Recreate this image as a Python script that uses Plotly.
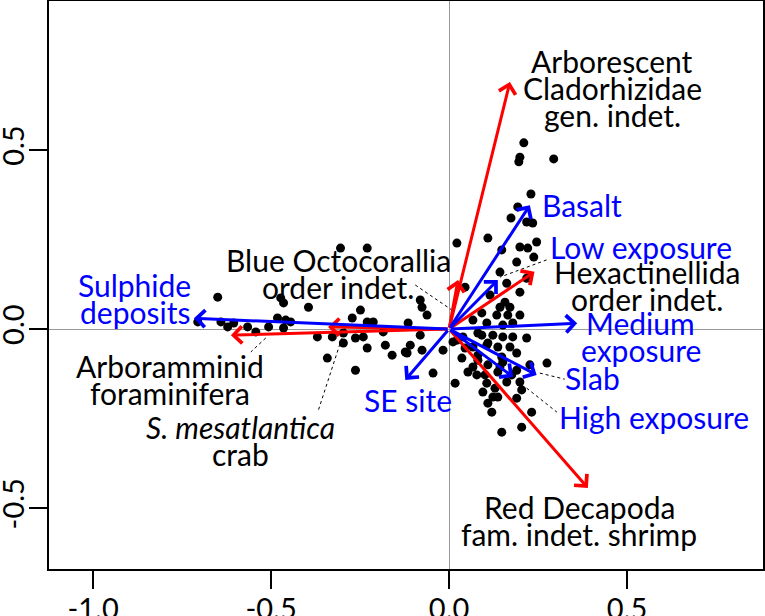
import plotly.graph_objects as go

# ---------------- data ----------------
site_x = [0.21, 0.199, 0.196, 0.294, 0.23, 0.193, 0.174, 0.218, 0.235, 0.022, 0.109, 0.148, 0.199, 0.246,
          0.221, 0.238, 0.19, 0.143, 0.162, 0.199, 0.218, 0.045, 0.115,
          0.157, 0.143, 0.171, 0.092, 0.134, 0.165, 0.199, 0.067, 0.106, 0.151, 0.179,
          0.039, 0.092, 0.123, 0.151, 0.179, 0.218, 0.022, 0.067, 0.106, 0.137, 0.171, 0.19, -0.017, 0.036,
          0.081, 0.151, 0.227, 0.275, 0.081, 0.011, 0.109, 0.045, 0.081, 0.148, 0.067, 0.109, 0.137, 0.101,
          0.176, 0.017, 0.053, 0.078, 0.106, 0.095, 0.129, 0.162, 0.199, 0.204, 0.137, 0.19, 0.109, 0.12,
          0.232, 0.204, 0.148, -0.045, 0.143, 0.19, 0.123,
          -0.081, -0.076, -0.062, -0.249, -0.23, -0.213, -0.115, -0.241, -0.185, -0.081, -0.23, -0.179,
          -0.16, -0.118, -0.109, -0.076, -0.123,
          -0.305, -0.23, -0.395, -0.272, -0.37, -0.328, -0.297, -0.263, -0.342,
          -0.65, -0.473, -0.465, -0.706, -0.641, -0.622, -0.605, -0.566, -0.543, -0.507, -0.482, -0.465,
          -0.445, -0.459, -0.297, -0.263]
site_y = [0.52, 0.48, 0.467, 0.475, 0.377, 0.341, 0.31, 0.299, 0.296, 0.24, 0.254, 0.221, 0.229, 0.243,
          0.226, 0.201, 0.187, 0.159, 0.128, 0.103, 0.142, 0.117, 0.095,
          0.075, 0.061, 0.061, 0.045, 0.039, 0.039, 0.039, 0.025, 0.017, 0.011, 0.017,
          -0.022, -0.017, -0.017, -0.022, -0.022, -0.025, -0.031, -0.05, -0.045, -0.05, -0.05, -0.067, -0.059, -0.081,
          -0.087, -0.092, -0.1, -0.095, -0.011, -0.036, -0.039, -0.053, -0.073, -0.078, -0.106, -0.1, -0.12, -0.128,
          -0.128, -0.151, -0.12, -0.128, -0.151, -0.176, -0.165, -0.148, -0.148, -0.17, -0.19, -0.193, -0.207, -0.232,
          -0.232, -0.274, -0.288, -0.123, -0.106, -0.115, -0.19,
          0.081, 0.061, 0.039, 0.053, 0.02, 0.02, 0.017, -0.022, -0.008, -0.017, -0.053, -0.045,
          -0.073, -0.067, -0.045, -0.059, -0.064,
          0.226, 0.226, 0.061, 0.031, -0.022, -0.022, -0.011, -0.025, -0.081,
          0.089, 0.087, 0.073, 0.02, 0.02, 0.006, 0.017, 0.006, -0.008, 0.006, 0.031, 0.003,
          0.02, 0.025, -0.039, -0.115]

species_names = ["Arborescent Cladorhizidae gen. indet.", "Hexactinellida order indet.",
                 "Blue Octocorallia order indet.", "Red Decapoda fam. indet. shrimp",
                 "Arboramminid foraminifera", "S. mesatlantica crab"]
species_x = [0.171, 0.24, 0.025, 0.39, -0.613, -0.340]
species_y = [0.69, 0.16, 0.137, -0.444, -0.017, 0.006]

env_names = ["Sulphide deposits", "Basalt", "Low exposure", "Medium exposure", "Slab",
             "High exposure", "SE site"]
env_x = [-0.717, 0.227, 0.137, 0.36, 0.246, 0.18, -0.123]
env_y = [0.03, 0.346, 0.137, 0.016, -0.128, -0.134, -0.142]

tick_vals_x = [-1.0, -0.5, 0.0, 0.5]
tick_text_x = ["-1.0", "-0.5", "0.0", "0.5"]
tick_vals_y = [-0.5, 0.0, 0.5]
tick_text_y = ["-0.5", "0.0", "0.5"]

# ---------------- layout of labels (positions only) ----------------
RED = "#FF0000"
BLUE = "#0000FF"
FONT = "Lato"
FS = 30
LINE = 27  # px between lines

labels = [
    (["Arborescent", "Cladorhizidae", "gen. indet."], 0.459, 0.673, "black"),
    (["Hexactinellida", "order indet."], 0.556, 0.121, "black"),
    (["Blue Octocorallia", "order indet."], -0.311, 0.155, "black"),
    (["Red Decapoda", "fam. indet. shrimp"], 0.366, -0.534, "black"),
    (["Arboramminid", "foraminifera"], -0.783, -0.14, "black"),
    (["<i>S. mesatlantica</i>", "crab"], -0.587, -0.311, "black"),
    (["Sulphide", "deposits"], -0.883, 0.085, BLUE),
    (["Basalt"], 0.374, 0.346, BLUE),
    (["Low exposure"], 0.54, 0.229, BLUE),
    (["Medium", "exposure"], 0.538, -0.022, BLUE),
    (["Slab"], 0.403, -0.137, BLUE),
    (["High exposure"], 0.577, -0.246, BLUE),
    (["SE site"], -0.116, -0.198, BLUE),
]

leaders = [
    ((-0.095, 0.123), (0.008, 0.053)),
    ((0.274, 0.193), (0.143, 0.145)),
    ((0.255, -0.123), (0.325, -0.14)),
    ((0.218, -0.165), (0.303, -0.232)),
    ((-0.515, -0.025), (-0.557, -0.064)),
    ((-0.291, 0.006), (-0.367, -0.226)),
]

fig = go.Figure()

fig.add_trace(go.Scatter(x=site_x, y=site_y, mode="markers",
                         marker=dict(size=9, color="black"), hoverinfo="skip"))

for (x0, y0), (x1, y1) in leaders:
    fig.add_trace(go.Scatter(x=[x0, x1], y=[y0, y1], mode="lines",
                             line=dict(color="black", width=1, dash="dot"), hoverinfo="skip"))

annotations = []
for xs, ys, col in ((species_x, species_y, RED), (env_x, env_y, BLUE)):
    for x, y in zip(xs, ys):
        annotations.append(dict(x=x, y=y, ax=0, ay=0, xref="x", yref="y", axref="x", ayref="y",
                                text="", showarrow=True, arrowhead=4, arrowsize=1.1,
                                arrowwidth=3, arrowcolor=col, standoff=0))

for lines, x, y, col in labels:
    n = len(lines)
    for i, t in enumerate(lines):
        annotations.append(dict(x=x, y=y, xref="x", yref="y", text=t, showarrow=False,
                                xanchor="center", yanchor="middle",
                                yshift=((n - 1) / 2 - i) * LINE,
                                font=dict(family=FONT, size=FS, color=col)))

fig.update_layout(
    width=765, height=616,
    margin=dict(l=49, r=2, t=1, b=47),
    paper_bgcolor="white", plot_bgcolor="white",
    showlegend=False,
    annotations=annotations,
    font=dict(family=FONT, size=FS, color="black"),
    xaxis=dict(range=[-1.124, 0.882], tickvals=tick_vals_x, ticktext=tick_text_x,
               ticks="outside", ticklen=18, tickwidth=2, tickcolor="black", automargin=False,
               ticklabelstandoff=-5,
               showline=True, linecolor="black", linewidth=2, mirror=True,
               showgrid=False, zeroline=True, zerolinecolor="#999999", zerolinewidth=1,
               tickfont=dict(family=FONT, size=29, color="black")),
    yaxis=dict(range=[-0.670, 0.916], tickvals=tick_vals_y, ticktext=tick_text_y,
               ticks="outside", ticklen=18, tickwidth=2, tickcolor="black", tickangle=-90,
               automargin=False, ticklabelstandoff=-7,
               showline=True, linecolor="black", linewidth=2, mirror=True,
               showgrid=False, zeroline=True, zerolinecolor="#999999", zerolinewidth=1,
               tickfont=dict(family=FONT, size=29, color="black")),
)

fig.write_html("out.html")
